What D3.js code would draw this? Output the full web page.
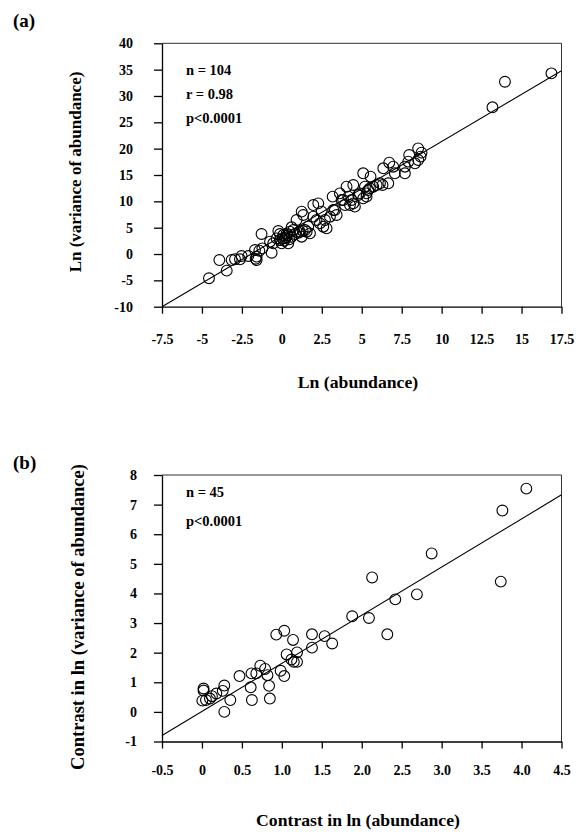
<!DOCTYPE html>
<html>
<head>
<meta charset="utf-8">
<title>Ln variance vs ln abundance</title>
<style>
  body { margin: 0; background: #fff; }
  svg text { font-family: "Liberation Serif", "Times New Roman", serif; font-weight: bold; fill: #000; }
</style>
</head>
<body>
<script src="https://d3js.org/d3.v7.min.js"></script>
<script>

// panel (a): ln abundance vs ln variance of abundance
let abundanceA = [16.87, 13.96, 13.18, -4.56, -3.91, -3.45, -3.14, -2.93, -2.52, -2.1,
  -1.64, -1.58, -1.27, -1.22, -1.41, -0.64, -0.74, -0.22, -0.12, -0.01,
  0.09, 0.19, 0.3, 0.4, 0.5, 0.61, 0.72, 0.92, 1.13, 1.24,
  1.34, 1.45, 1.65, 1.76, 1.97, 2.28, 2.49, 2.38, 2.59, 2.7,
  2.8, 3.01, 3.18, 3.32, 3.63, 3.84, 3.95, 4.05, 4.16, 4.26,
  4.47, 4.57, 4.78, 5.09, 5.2, 5.3, 5.41, 5.55, 5.72, 5.93,
  6.3, 6.66, 6.35, 6.72, 6.97, 7.07, 7.7, 7.7, 7.91, 7.97,
  8.33, 8.53, 8.68, 8.74, 8.53, 0.05, 0.15, 0.26, 0.34, 0.46,
  0.82, 1.03, 1.3, 1.55, 1.24, -0.12, -0.33, -0.54, -1.68, 3.22,
  3.43, 4.36, 4.47, 4.88, 5.3, 5.51, 6.14, 3.74, 1.97, 2.17,
  5.09, -2.62, -1.58, 0.61]
let varianceA = [34.3, 32.7, 27.85, -4.6, -1.14, -3.16, -1.14, -1.0, -0.38, -0.38,
  -0.89, -0.5, 3.8, 1.08, 0.63, 0.25, 2.34, 4.37, 2.66, 2.03,
  3.6, 2.97, 3.92, 2.03, 4.24, 3.29, 4.56, 6.46, 4.24, 8.04,
  7.41, 4.56, 5.19, 3.92, 9.3, 9.62, 8.04, 5.82, 5.19, 6.46,
  4.87, 7.09, 10.89, 8.35, 11.52, 10.25, 9.3, 12.78, 10.89, 9.3,
  13.1, 8.99, 11.2, 15.32, 12.78, 10.89, 12.15, 14.68, 12.78, 13.1,
  13.1, 13.42, 16.27, 17.34, 16.58, 15.32, 15.32, 16.58, 17.53, 18.8,
  17.22, 20.06, 18.48, 19.24, 17.85, 2.97, 2.53, 3.16, 3.6, 2.78,
  3.8, 4.05, 4.43, 4.24, 3.29, 3.8, 2.97, 2.03, 0.76, 8.35,
  7.41, 10.25, 9.62, 11.52, 11.52, 12.47, 13.42, 10.25, 7.09, 6.46,
  10.57, -1.0, -1.14, 5.07]
let fitAx = [-7.5, 17.5]
let fitAy = [-10, 34.8]
let xTicksA = [-7.5, -5, -2.5, 0, 2.5, 5, 7.5, 10, 12.5, 15, 17.5]
let yTicksA = [-10, -5, 0, 5, 10, 15, 20, 25, 30, 35, 40]
let statsA = ["n = 104", "r = 0.98", "p<0.0001"]

// panel (b): independent contrasts
let contrastAbund = [4.06, 3.76, 3.74, 2.875, 2.13, 2.69, 2.42, 1.88, 2.09, 2.32,
  1.377, 1.535, 1.63, 1.377, 0.93, 1.03, 1.14, 1.19, 1.06, 1.12,
  1.15, 1.19, 0.985, 1.03, 0.73, 0.79, 0.82, 0.62, 0.68, 0.47,
  0.84, 0.85, 0.61, 0.625, 0.28, 0.26, 0.355, 0.28, 0.18, 0.125,
  0.1, 0.02, 0.02, 0.005, 0.05]
let contrastVar = [7.54, 6.8, 4.4, 5.35, 4.54, 3.97, 3.8, 3.23, 3.17, 2.62,
  2.62, 2.56, 2.31, 2.17, 2.61, 2.74, 2.43, 2.01, 1.94, 1.77,
  1.69, 1.69, 1.39, 1.21, 1.56, 1.45, 1.24, 1.3, 1.3, 1.21,
  0.88, 0.45, 0.83, 0.4, 0.89, 0.71, 0.4, 0.0, 0.62, 0.53,
  0.45, 0.79, 0.72, 0.38, 0.4]
let fitBx = [-0.5, 4.5]
let fitBy = [-0.8, 7.33]
let xTicksB = [-0.5, 0, 0.5, 1.0, 1.5, 2.0, 2.5, 3.0, 3.5, 4.0, 4.5]
let yTicksB = [-1, 0, 1, 2, 3, 4, 5, 6, 7, 8]
let statsB = ["n = 45", "p<0.0001"]

let w = 583
let h = 832

let svg = d3.select("body")
  .append("svg")
  .attr("width", w)
  .attr("height", h)
  .style("background-color", "white")

function drawPanel(p) {
  let g = svg.append("g")

  let x = d3.scaleLinear().domain(d3.extent(p.xTicks)).range([162, 561.5])
  let y = d3.scaleLinear().domain(d3.extent(p.yTicks)).range([p.bottom, p.top])

  // top and right frame
  g.append("path")
    .attr("d", `M${x.range()[0]},${p.top}H${x.range()[1]}V${p.bottom}`)
    .attr("fill", "none")
    .attr("stroke", "#333")
    .attr("stroke-width", 1)

  let xAxis = g.append("g")
    .attr("transform", `translate(0,${p.bottom})`)
    .call(d3.axisBottom(x).tickValues(p.xTicks).tickFormat(p.xFmt)
      .tickSize(7).tickSizeOuter(0).tickPadding(p.xPad))

  let yAxis = g.append("g")
    .attr("transform", `translate(${x.range()[0]},0)`)
    .call(d3.axisLeft(y).tickValues(p.yTicks).tickFormat(d => String(d))
      .tickSize(8).tickSizeOuter(0).tickPadding(p.yPad))

  for (let ax of [xAxis, yAxis]) {
    ax.attr("font-family", null).attr("font-size", null)
    ax.selectAll("text").style("font-size", "14px")
    ax.selectAll("line, path").attr("stroke", "#000").attr("stroke-width", 1.3)
  }

  let line = d3.line().x(d => x(d[0])).y(d => y(d[1]))
  g.append("path")
    .datum(d3.zip(p.fitX, p.fitY))
    .attr("d", line)
    .attr("fill", "none")
    .attr("stroke", "#000")
    .attr("stroke-width", 1.1)

  g.selectAll("circle")
    .data(d3.zip(p.xs, p.ys))
    .enter()
    .append("circle")
    .attr("cx", d => x(d[0]))
    .attr("cy", d => y(d[1]))
    .attr("r", 5.4)
    .attr("fill", "none")
    .attr("stroke", "#000")
    .attr("stroke-width", 1.1)

  g.selectAll(".stat")
    .data(p.stats)
    .enter()
    .append("text")
    .attr("class", "stat")
    .attr("x", 186)
    .attr("y", (d, i) => p.statY + i * p.statGap)
    .style("font-size", "14.5px")
    .text(d => d)

  g.append("text")
    .attr("x", 13)
    .attr("y", p.labelY)
    .style("font-size", "19px")
    .text(p.label)

  g.append("text")
    .attr("x", 358)
    .attr("y", p.xTitleY)
    .attr("text-anchor", "middle")
    .style("font-size", "17.7px")
    .text(p.xTitle)

  g.append("text")
    .attr("transform", `translate(${p.yTitleX},${p.yTitleY}) rotate(-90)`)
    .attr("text-anchor", "middle")
    .style("font-size", p.yTitleSize)
    .text(p.yTitle)
}

drawPanel({
  xs: abundanceA, ys: varianceA, fitX: fitAx, fitY: fitAy,
  xTicks: xTicksA, yTicks: yTicksA, xFmt: d => String(d),
  top: 43.3, bottom: 306.7, xPad: 20, yPad: 21,
  stats: statsA, statY: 74.5, statGap: 24,
  label: "(a)", labelY: 27,
  xTitle: "Ln (abundance)", xTitleY: 388,
  yTitle: "Ln (variance of abundance)", yTitleX: 81, yTitleY: 172, yTitleSize: "17px"
})

drawPanel({
  xs: contrastAbund, ys: contrastVar, fitX: fitBx, fitY: fitBy,
  xTicks: xTicksB, yTicks: yTicksB, xFmt: d => d === 0 ? "0" : d.toFixed(1),
  top: 475, bottom: 741.5, xPad: 17, yPad: 17,
  stats: statsB, statY: 497, statGap: 28.5,
  label: "(b)", labelY: 469,
  xTitle: "Contrast in ln (abundance)", xTitleY: 826,
  yTitle: "Contrast in ln (variance of abundance)", yTitleX: 83.5, yTitleY: 617, yTitleSize: "18.5px"
})

</script>
</body>
</html>
